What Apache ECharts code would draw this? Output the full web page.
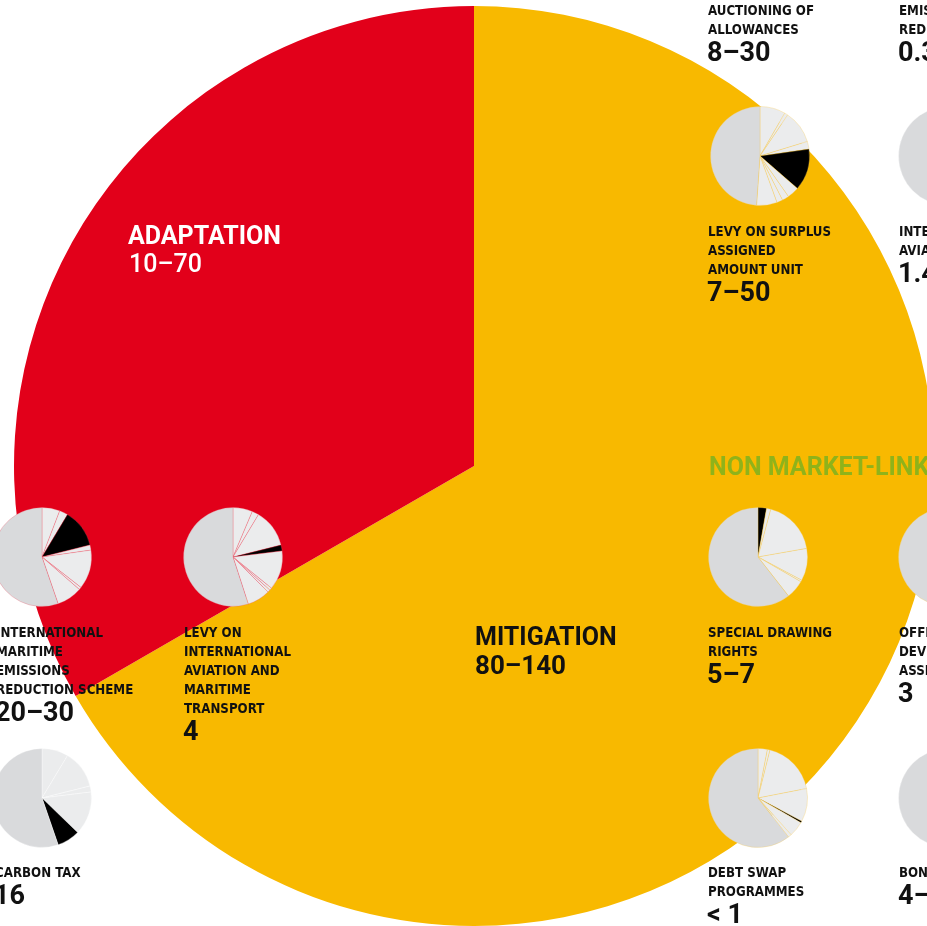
<!DOCTYPE html>
<html>
<head>
<meta charset="utf-8">
<script src="https://cdn.jsdelivr.net/npm/echarts@6/dist/echarts.min.js"></script>
<style>
  html, body { margin: 0; padding: 0; background: #fff; }
  #chart { width: 927px; height: 926px; }
</style>
</head>
<body>
<div id="chart"></div>
<script>
// main split, upper bounds of the ranges (bn USD)
const mainCategories = ['MITIGATION', 'ADAPTATION'];
const mainValues = [140, 70];
const mainRanges = ['80–140', '10–70'];

// small pies: slice sizes in degrees, clockwise from 12 o'clock
const surplusAauValues = [30, 4, 39, 9, 49, 14, 8, 7, 24, 176];
const surplusAauKinds = ['light', 'light', 'light', 'light', 'black', 'light', 'light', 'light', 'light', 'dark'];
const aviationValues = [180, 180];
const aviationKinds = ['light', 'dark'];
const maritimeValues = [21, 10, 45, 6, 46, 3, 30, 199];
const maritimeKinds = ['light', 'light', 'black', 'light', 'light', 'light', 'light', 'dark'];
const transportLevyValues = [23, 8, 45, 7, 46, 3, 3, 27, 198];
const transportLevyKinds = ['light', 'light', 'light', 'black', 'light', 'light', 'light', 'light', 'dark'];
const sdrValues = [10, 5, 65, 38, 2, 22, 218];
const sdrKinds = ['black', 'light', 'light', 'light', 'light', 'light', 'dark'];
const odaValues = [180, 180];
const odaKinds = ['light', 'dark'];
const carbonTaxValues = [31, 45, 7, 51, 27, 199];
const carbonTaxKinds = ['light', 'light', 'light', 'light', 'black', 'dark'];
const debtSwapValues = [11, 3, 65, 39, 2, 18, 4, 218];
const debtSwapKinds = ['light', 'light', 'light', 'light', 'black', 'light', 'light', 'dark'];
const bondsValues = [180, 180];
const bondsKinds = ['light', 'dark'];

// instrument labels
const auctioningLabel = ['AUCTIONING OF', 'ALLOWANCES'];
const auctioningRange = '8–30';
const emissionsLabel = ['EMISSIONS', 'REDUCTION'];
const emissionsRange = '0.3';
const surplusAauLabel = ['LEVY ON SURPLUS', 'ASSIGNED', 'AMOUNT UNIT'];
const surplusAauRange = '7–50';
const aviationLabel = ['INTERNATIONAL', 'AVIATION'];
const aviationRange = '1.4';
const maritimeLabel = ['INTERNATIONAL', 'MARITIME', 'EMISSIONS', 'REDUCTION SCHEME'];
const maritimeRange = '20–30';
const transportLevyLabel = ['LEVY ON', 'INTERNATIONAL', 'AVIATION AND', 'MARITIME', 'TRANSPORT'];
const transportLevyRange = '4';
const sdrLabel = ['SPECIAL DRAWING', 'RIGHTS'];
const sdrRange = '5–7';
const odaLabel = ['OFFICIAL', 'DEVELOPMENT', 'ASSISTANCE'];
const odaRange = '3';
const carbonTaxLabel = ['CARBON TAX'];
const carbonTaxRange = '16';
const debtSwapLabel = ['DEBT SWAP', 'PROGRAMMES'];
const debtSwapRange = '< 1';
const bondsLabel = ['BONDS'];
const bondsRange = '4–5';
const nonMarketTitle = 'NON MARKET-LINKED';

const RED = '#e2001a';
const YELLOW = '#f8b900';
const kindColor = { light: '#ebeced', dark: '#d9dadc', black: '#000000' };
const gapColor = {
  red: 'rgba(240, 80, 100, 0.55)',
  yellow: 'rgba(248, 200, 80, 0.6)',
  white: 'rgba(255, 255, 255, 0.7)'
};
const SMALL_FONT = "bold 13.2px 'Liberation Sans Narrow', 'DejaVu Sans Condensed', Roboto, sans-serif";
const BIG_FONT = "bold 27px Roboto, 'Liberation Sans', sans-serif";

const chart = echarts.init(document.getElementById('chart'), null, { renderer: 'canvas' });

function smallPie(name, values, kinds, center, gap) {
  return {
    name: name,
    type: 'pie',
    silent: true,
    center: center,
    radius: 49.5,
    startAngle: 90,
    clockwise: true,
    label: { show: false },
    labelLine: { show: false },
    emphasis: { disabled: true },
    itemStyle: { borderColor: gap, borderWidth: 0.5 },
    data: values.map((v, i) => ({ value: v, itemStyle: { color: kindColor[kinds[i]] } }))
  };
}

function labelBlock(x, y, lines, range) {
  const els = lines.map((t, i) => ({
    type: 'text', x: x, y: y + i * 19, z: 100,
    style: { text: t, font: SMALL_FONT, fill: '#111', verticalAlign: 'middle', textVerticalAlign: 'middle' }
  }));
  els.push({
    type: 'text', x: x - 1, y: y + (lines.length - 1) * 19 + 23, z: 100,
    style: { text: range, font: BIG_FONT, fill: '#111', verticalAlign: 'middle', textVerticalAlign: 'middle' }
  });
  return els;
}

const graphics = [].concat(
  labelBlock(708, 12, auctioningLabel, auctioningRange),
  labelBlock(899, 12, emissionsLabel, emissionsRange),
  labelBlock(708, 233, surplusAauLabel, surplusAauRange),
  labelBlock(899, 233, aviationLabel, aviationRange),
  labelBlock(-4, 634, maritimeLabel, maritimeRange),
  labelBlock(184, 634, transportLevyLabel, transportLevyRange),
  labelBlock(708, 634, sdrLabel, sdrRange),
  labelBlock(899, 634, odaLabel, odaRange),
  labelBlock(-5, 874, carbonTaxLabel, carbonTaxRange),
  labelBlock(708, 874, debtSwapLabel, debtSwapRange),
  labelBlock(899, 874, bondsLabel, bondsRange),
  [
    { type: 'text', x: 128, y: 238, z: 100,
      style: { text: mainCategories[1], font: "bold 25px Roboto, sans-serif", fill: '#fff', verticalAlign: 'middle', textVerticalAlign: 'middle' } },
    { type: 'text', x: 129, y: 266, z: 100,
      style: { text: mainRanges[1], font: "500 25px Roboto, sans-serif", fill: '#fff', verticalAlign: 'middle', textVerticalAlign: 'middle' } },
    { type: 'text', x: 475, y: 639, z: 100,
      style: { text: mainCategories[0], font: "bold 25px Roboto, sans-serif", fill: '#111', verticalAlign: 'middle', textVerticalAlign: 'middle' } },
    { type: 'text', x: 475, y: 667, z: 100,
      style: { text: mainRanges[0], font: "bold 26px Roboto, sans-serif", fill: '#111', verticalAlign: 'middle', textVerticalAlign: 'middle' } },
    { type: 'text', x: 709, y: 469, z: 100,
      style: { text: nonMarketTitle, font: "bold 25px Roboto, sans-serif", fill: '#8fb31a', verticalAlign: 'middle', textVerticalAlign: 'middle' } }
  ]
);

const option = {
  animation: false,
  backgroundColor: '#fff',
  graphic: { elements: graphics },
  series: [
    {
      name: 'Climate finance',
      type: 'pie',
      silent: true,
      center: [474, 466],
      radius: 460,
      startAngle: 90,
      clockwise: true,
      label: { show: false },
      labelLine: { show: false },
      emphasis: { disabled: true },
      data: mainCategories.map((c, i) => ({
        name: c, value: mainValues[i], itemStyle: { color: i === 0 ? YELLOW : RED }
      }))
    },
    smallPie('Levy on surplus AAU', surplusAauValues, surplusAauKinds, [760, 156], gapColor.yellow),
    smallPie('International aviation', aviationValues, aviationKinds, [948, 156], gapColor.white),
    smallPie('International maritime', maritimeValues, maritimeKinds, [42, 557], gapColor.red),
    smallPie('Levy on aviation and maritime', transportLevyValues, transportLevyKinds, [233, 557], gapColor.red),
    smallPie('Special drawing rights', sdrValues, sdrKinds, [758, 557], gapColor.yellow),
    smallPie('Official development assistance', odaValues, odaKinds, [948, 557], gapColor.yellow),
    smallPie('Carbon tax', carbonTaxValues, carbonTaxKinds, [42, 798], gapColor.white),
    smallPie('Debt swap', debtSwapValues, debtSwapKinds, [758, 798], gapColor.yellow),
    smallPie('Bonds', bondsValues, bondsKinds, [948, 798], gapColor.white)
  ]
};

chart.setOption(option);
</script>
</body>
</html>
